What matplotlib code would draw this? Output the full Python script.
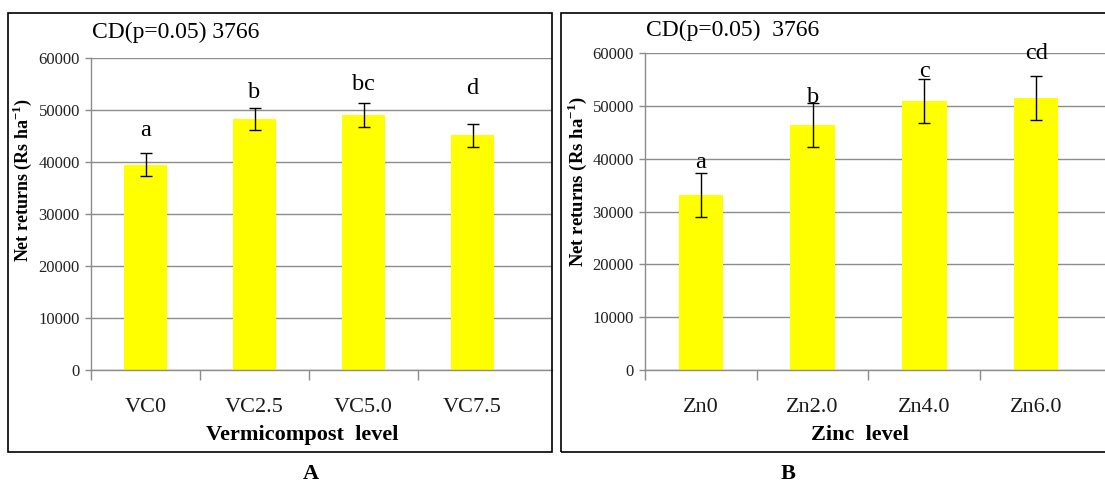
import matplotlib
matplotlib.use("Agg")
import matplotlib.pyplot as plt
from matplotlib.patches import Rectangle

plt.rcParams['font.family'] = ['Liberation Serif', 'DejaVu Serif']
plt.rcParams['mathtext.fontset'] = 'custom'
plt.rcParams['mathtext.rm'] = 'Liberation Serif'
plt.rcParams['mathtext.bf'] = 'Liberation Serif:bold'

# ---- data ----
vc_levels = ["VC0", "VC2.5", "VC5.0", "VC7.5"]
vc_returns = [39500, 48300, 49000, 45100]
vc_err = [2150, 2150, 2250, 2300]
vc_letters = ["a", "b", "bc", "d"]

zn_levels = ["Zn0", "Zn2.0", "Zn4.0", "Zn6.0"]
zn_returns = [33200, 46400, 51000, 51500]
zn_err = [4200, 4100, 4200, 4150]
zn_letters = ["a", "b", "c", "cd"]

cd_text_a = "CD(p=0.05) 3766"
cd_text_b = "CD(p=0.05)  3766"
yticks = [0, 10000, 20000, 30000, 40000, 50000, 60000]

W, H = 1105, 484
fig = plt.figure(figsize=(W / 100, H / 100), dpi=100)

def fx(px):
    return px / W

def fy(py):
    return 1 - py / H

def panel(rect, cats, vals, errs, letters, letter_off, xmax):
    ax = fig.add_axes(rect)
    x = list(range(len(cats)))
    ax.bar(x, vals, width=0.40, color="#FFFF00", zorder=2)
    ax.errorbar(x, vals, yerr=errs, fmt="none", ecolor="black",
                elinewidth=1.0, capsize=4.5, capthick=1.0, zorder=3)
    for xi, v, e, lab, off in zip(x, vals, errs, letters, letter_off):
        ax.annotate(lab, (xi, v + e), xytext=(0, off), textcoords="offset pixels",
                    ha="center", va="center", fontsize=17.5, zorder=4)
    ax.set_ylim(0, 60000)
    ax.set_xlim(-0.5, xmax)
    ax.set_yticks(yticks)
    ax.set_yticklabels([str(t) for t in yticks], fontsize=12, color="#222222")
    ax.yaxis.grid(True, color="#8c8c8c", linewidth=1.0, zorder=0)
    ax.set_axisbelow(True)
    for s in ["top", "right"]:
        ax.spines[s].set_visible(False)
    for s in ["left", "bottom"]:
        ax.spines[s].set_color("#8c8c8c")
        ax.spines[s].set_linewidth(1.0)
    ax.set_xticks(x)
    ax.set_xticklabels(cats, fontsize=16, color="#1a1a1a")
    ax.set_xticks([-0.5, 0.5, 1.5, 2.5], minor=True)
    ax.tick_params(axis="x", which="major", length=0, pad=20)
    ax.tick_params(axis="x", which="minor", length=7, color="#8c8c8c", width=1.0)
    ax.tick_params(axis="y", length=4, color="#8c8c8c", width=1.0, pad=4)
    return ax

# Panel A
axA = panel([fx(91), 1 - 370 / H, fx(552 - 91), 312 / H],
            vc_levels, vc_returns, vc_err, vc_letters, [23, 15, 19, 35],
            3.5 + 25 / 109)
# Panel B
axB = panel([fx(645), 1 - 370 / H, fx(1105 - 645), 316.7 / H],
            zn_levels, zn_returns, zn_err, zn_letters, [10, 6, 7, 23],
            3.5 + 13 / 111.7)

# frames around each chart
fig.patches.append(Rectangle((fx(8), fy(452)), fx(552 - 8), (452 - 13) / H,
                             transform=fig.transFigure, fill=False,
                             edgecolor="black", linewidth=1.2))
fig.patches.append(Rectangle((fx(561), fy(452)), fx(1110 - 561), (452 - 13) / H,
                             transform=fig.transFigure, fill=False,
                             edgecolor="black", linewidth=1.2))

# CD texts
fig.text(fx(92), fy(32), cd_text_a, fontsize=17, ha="left", va="center")
fig.text(fx(646), fy(30), cd_text_b, fontsize=17, ha="left", va="center")

# y labels
ylab = r"Net returns (Rs ha$^{\mathbf{-1}}$)"
fig.text(fx(22), fy(180), ylab, rotation=90, fontsize=13, fontweight="bold",
         ha="center", va="center")
fig.text(fx(577), fy(182), ylab, rotation=90, fontsize=13.5, fontweight="bold",
         ha="center", va="center")

# x labels
fig.text(fx(302), fy(435), "Vermicompost  level", fontsize=16, fontweight="bold",
         ha="center", va="center")
fig.text(fx(860), fy(435), "Zinc  level", fontsize=16, fontweight="bold",
         ha="center", va="center")

# panel letters
fig.text(fx(311), fy(474), "A", fontsize=16, fontweight="bold", ha="center", va="center")
fig.text(fx(788), fy(474), "B", fontsize=16, fontweight="bold", ha="center", va="center")

fig.savefig("out.png", dpi=100)
